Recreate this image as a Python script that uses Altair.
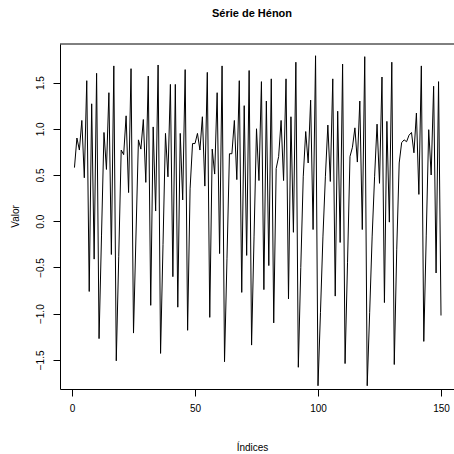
import altair as alt
import pandas as pd

# ---- data ----
indices = list(range(1, 151))
valores = [
    0.58, 0.90, 0.77, 1.09, 0.47, 1.52, -0.76, 1.27, -0.41, 1.60,
    -1.27, -0.15, 0.96, 0.56, 1.39, -0.36, 1.68, -1.51, -0.38, 0.77,
    0.72, 1.14, 0.31, 1.65, -1.21, -0.16, 0.88, 0.78, 1.10, 0.42,
    1.57, -0.91, 1.02, 0.11, 1.69, -1.43, -0.25, 0.95, 0.48, 1.48,
    -0.60, 1.48, -0.93, 0.95, 0.23, 1.64, -1.18, 0.35, 0.84, 0.84,
    0.95, 0.77, 1.13, 0.38, 1.61, -1.04, 0.78, 0.51, 1.39, -0.35,
    1.68, -1.52, -0.40, 0.73, 0.73, 1.09, 0.45, 1.52, -0.77, 1.25,
    -0.37, 1.63, -1.34, -0.17, 1.00, 0.44, 1.51, -0.74, 1.30, -0.48,
    1.54, -1.10, 0.57, 0.70, 1.09, 0.44, 1.54, -0.84, 1.13, -0.12,
    1.72, -1.58, -0.50, 0.48, 0.97, 0.63, 1.31, -0.09, 1.79, -1.78,
    -0.99, -0.17, 0.48, 1.04, 0.43, 1.54, -0.81, 1.19, -0.23, 1.70,
    -1.54, -0.45, 0.70, 0.80, 1.01, 0.64, 1.30, -0.09, 1.78, -1.78,
    -0.99, -0.17, 0.48, 1.05, 0.41, 1.56, -0.88, 1.08, -0.01, 1.72,
    -1.55, -0.31, 0.63, 0.85, 0.88, 0.86, 0.93, 0.96, 0.74, 1.17,
    0.29, 1.68, -1.30, -0.15, 0.99, 0.50, 1.46, -0.56, 1.51, -1.02,
]
x_ticks = [0, 50, 100, 150]
y_ticks = [-1.5, -1.0, -0.5, 0.0, 0.5, 1.0, 1.5]

titulo = "Série de Hénon"
titulo_x = "Índices"
titulo_y = "Valor"

df = pd.DataFrame({"indice": indices, "valor": valores})

FONT = "Liberation Sans"
W, H = 394, 345

axis_common = dict(
    grid=False,
    domainColor="black",
    domainWidth=1,
    tickColor="black",
    tickWidth=1,
    tickSize=7,
    labelFont=FONT,
    labelFontSize=10,
    labelColor="black",
    labelFlush=False,
    labelOverlap=False,
    titleFont=FONT,
    titleFontSize=10,
    titleFontWeight="normal",
    titleColor="black",
)

line = alt.Chart(df).mark_line(color="black", strokeWidth=1).encode(
    x=alt.X(
        "indice:Q",
        scale=alt.Scale(domain=[-4.878, 155.28], nice=False, zero=False),
        axis=alt.Axis(
            values=x_ticks,
            format="d",
            title=titulo_x,
            labelBaseline="middle",
            labelPadding=12,
            titleX=192,
            titleY=58,
            titleAlign="center",
            titleBaseline="middle",
            **axis_common,
        ),
    ),
    y=alt.Y(
        "valor:Q",
        scale=alt.Scale(domain=[-1.815, 1.917], nice=False, zero=False),
        axis=alt.Axis(
            values=y_ticks,
            format=".1f",
            title=titulo_y,
            labelAngle=270,
            labelAlign="center",
            labelBaseline="middle",
            labelPadding=13,
            titleAngle=270,
            titleX=-45,
            titleY=172,
            titleAlign="center",
            titleBaseline="middle",
            **axis_common,
        ),
    ),
)

top_border = alt.Chart(pd.DataFrame({"a": [0]})).mark_rule(
    color="black", strokeWidth=1
).encode(x=alt.value(0), x2=alt.value(W), y=alt.value(0))

chart = (
    alt.layer(line, top_border)
    .properties(
        width=W,
        height=H,
        autosize=alt.AutoSizeParams(type="none"),
        padding={"left": 60, "top": 44, "right": 0, "bottom": 65},
        title=alt.TitleParams(
            text=titulo,
            font=FONT,
            fontSize=11,
            fontWeight="bold",
            color="black",
            anchor="middle",
            baseline="middle",
            dx=-5,
            offset=19,
        ),
        background="white",
    )
    .configure_view(stroke=None)
)

chart.save("out.html", embed_options={"renderer": "svg", "actions": False})
